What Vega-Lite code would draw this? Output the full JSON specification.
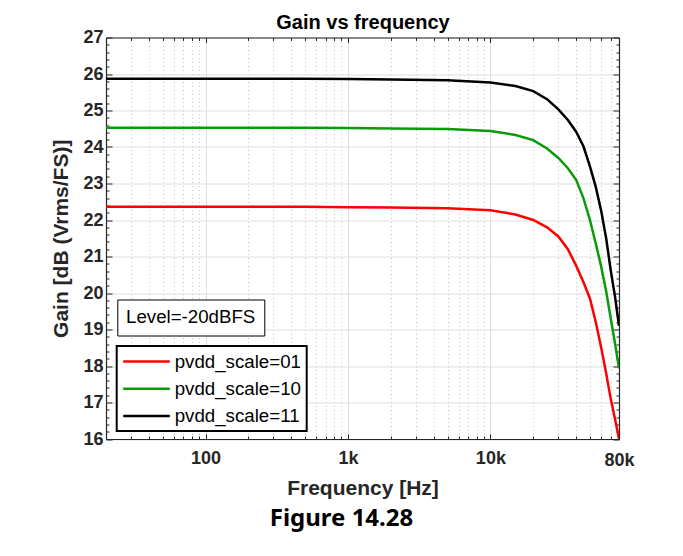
{
  "$schema": "https://vega.github.io/schema/vega-lite/v6.json",
  "width": 513,
  "height": 401.5,
  "autosize": {"type": "none"},
  "padding": {"left": 106, "top": 37.5, "right": 64, "bottom": 117},
  "background": "white",
  "config": {
    "view": {"stroke": null},
    "axis": {
      "labelFont": "Liberation Sans",
      "labelFontWeight": "bold",
      "labelFontSize": 18,
      "labelColor": "#262626",
      "titleFont": "Liberation Sans",
      "titleFontWeight": "bold",
      "titleFontSize": 21,
      "titleColor": "#262626",
      "domainColor": "#262626",
      "domainWidth": 1.2,
      "tickColor": "#262626",
      "tickWidth": 1,
      "labelFlush": false,
      "labelOverlap": false
    },
    "legend": {
      "labelFont": "Liberation Sans",
      "labelFontSize": 18.7,
      "labelColor": "#000000",
      "strokeColor": "#000000",
      "fillColor": "#ffffff"
    },
    "title": {"font": "Noto Sans", "fontWeight": "bold", "fontSize": 24, "color": "#000000"}
  },
  "title": {"text": "Figure 14.28", "orient": "bottom", "anchor": "middle", "frame": "group", "dx": -21, "offset": 9},
  "datasets": {
    "curves": [
      {"f": 20, "gain": 22.36, "series": "pvdd_scale=01"},
      {"f": 30, "gain": 22.36, "series": "pvdd_scale=01"},
      {"f": 50, "gain": 22.36, "series": "pvdd_scale=01"},
      {"f": 100, "gain": 22.36, "series": "pvdd_scale=01"},
      {"f": 200, "gain": 22.36, "series": "pvdd_scale=01"},
      {"f": 500, "gain": 22.36, "series": "pvdd_scale=01"},
      {"f": 1000, "gain": 22.35, "series": "pvdd_scale=01"},
      {"f": 2000, "gain": 22.34, "series": "pvdd_scale=01"},
      {"f": 5000, "gain": 22.32, "series": "pvdd_scale=01"},
      {"f": 10000, "gain": 22.27, "series": "pvdd_scale=01"},
      {"f": 15000, "gain": 22.15, "series": "pvdd_scale=01"},
      {"f": 20000, "gain": 22.0, "series": "pvdd_scale=01"},
      {"f": 25000, "gain": 21.8, "series": "pvdd_scale=01"},
      {"f": 30000, "gain": 21.55, "series": "pvdd_scale=01"},
      {"f": 35000, "gain": 21.2, "series": "pvdd_scale=01"},
      {"f": 40000, "gain": 20.75, "series": "pvdd_scale=01"},
      {"f": 45000, "gain": 20.3, "series": "pvdd_scale=01"},
      {"f": 50000, "gain": 19.85, "series": "pvdd_scale=01"},
      {"f": 55000, "gain": 19.2, "series": "pvdd_scale=01"},
      {"f": 60000, "gain": 18.5, "series": "pvdd_scale=01"},
      {"f": 65000, "gain": 17.8, "series": "pvdd_scale=01"},
      {"f": 70000, "gain": 17.1, "series": "pvdd_scale=01"},
      {"f": 75000, "gain": 16.55, "series": "pvdd_scale=01"},
      {"f": 80000, "gain": 16.0, "series": "pvdd_scale=01"},
      {"f": 20, "gain": 24.53, "series": "pvdd_scale=10"},
      {"f": 30, "gain": 24.53, "series": "pvdd_scale=10"},
      {"f": 50, "gain": 24.53, "series": "pvdd_scale=10"},
      {"f": 100, "gain": 24.53, "series": "pvdd_scale=10"},
      {"f": 200, "gain": 24.53, "series": "pvdd_scale=10"},
      {"f": 500, "gain": 24.53, "series": "pvdd_scale=10"},
      {"f": 1000, "gain": 24.52, "series": "pvdd_scale=10"},
      {"f": 2000, "gain": 24.51, "series": "pvdd_scale=10"},
      {"f": 5000, "gain": 24.49, "series": "pvdd_scale=10"},
      {"f": 10000, "gain": 24.44, "series": "pvdd_scale=10"},
      {"f": 15000, "gain": 24.33, "series": "pvdd_scale=10"},
      {"f": 20000, "gain": 24.19, "series": "pvdd_scale=10"},
      {"f": 25000, "gain": 23.96, "series": "pvdd_scale=10"},
      {"f": 30000, "gain": 23.7, "series": "pvdd_scale=10"},
      {"f": 35000, "gain": 23.42, "series": "pvdd_scale=10"},
      {"f": 40000, "gain": 23.1, "series": "pvdd_scale=10"},
      {"f": 45000, "gain": 22.6, "series": "pvdd_scale=10"},
      {"f": 50000, "gain": 22.0, "series": "pvdd_scale=10"},
      {"f": 55000, "gain": 21.35, "series": "pvdd_scale=10"},
      {"f": 60000, "gain": 20.72, "series": "pvdd_scale=10"},
      {"f": 65000, "gain": 20.05, "series": "pvdd_scale=10"},
      {"f": 70000, "gain": 19.3, "series": "pvdd_scale=10"},
      {"f": 75000, "gain": 18.62, "series": "pvdd_scale=10"},
      {"f": 80000, "gain": 17.94, "series": "pvdd_scale=10"},
      {"f": 20, "gain": 25.87, "series": "pvdd_scale=11"},
      {"f": 30, "gain": 25.87, "series": "pvdd_scale=11"},
      {"f": 50, "gain": 25.87, "series": "pvdd_scale=11"},
      {"f": 100, "gain": 25.87, "series": "pvdd_scale=11"},
      {"f": 200, "gain": 25.87, "series": "pvdd_scale=11"},
      {"f": 500, "gain": 25.87, "series": "pvdd_scale=11"},
      {"f": 1000, "gain": 25.86, "series": "pvdd_scale=11"},
      {"f": 2000, "gain": 25.85, "series": "pvdd_scale=11"},
      {"f": 5000, "gain": 25.83, "series": "pvdd_scale=11"},
      {"f": 10000, "gain": 25.77, "series": "pvdd_scale=11"},
      {"f": 15000, "gain": 25.67, "series": "pvdd_scale=11"},
      {"f": 20000, "gain": 25.53, "series": "pvdd_scale=11"},
      {"f": 25000, "gain": 25.31, "series": "pvdd_scale=11"},
      {"f": 30000, "gain": 25.03, "series": "pvdd_scale=11"},
      {"f": 35000, "gain": 24.74, "series": "pvdd_scale=11"},
      {"f": 40000, "gain": 24.42, "series": "pvdd_scale=11"},
      {"f": 45000, "gain": 24.02, "series": "pvdd_scale=11"},
      {"f": 50000, "gain": 23.47, "series": "pvdd_scale=11"},
      {"f": 55000, "gain": 22.9, "series": "pvdd_scale=11"},
      {"f": 60000, "gain": 22.25, "series": "pvdd_scale=11"},
      {"f": 65000, "gain": 21.5, "series": "pvdd_scale=11"},
      {"f": 70000, "gain": 20.62, "series": "pvdd_scale=11"},
      {"f": 75000, "gain": 19.9, "series": "pvdd_scale=11"},
      {"f": 80000, "gain": 19.1, "series": "pvdd_scale=11"}
    ]
  },
  "layer": [
    {
      "data": {"name": "curves"},
      "mark": {"type": "line", "strokeWidth": 2.5, "clip": true},
      "encoding": {
        "x": {
          "field": "f", "type": "quantitative",
          "scale": {"type": "log", "domain": [20, 80000], "nice": false},
          "axis": {
            "orient": "bottom",
            "title": "Frequency [Hz]",
            "titlePadding": 8,
            "values": [20,30,40,50,60,70,80,90,100,200,300,400,500,600,700,800,900,1000,2000,3000,4000,5000,6000,7000,8000,9000,10000,20000,30000,40000,50000,60000,70000,80000],
            "labelExpr": "indexof([100,1000,10000,80000], datum.value) >= 0 ? (datum.value >= 1000 ? (datum.value/1000) + 'k' : '' + datum.value) : ''",
            "labelPadding": 15,
            "grid": true,
            "gridColor": {"condition": {"test": "indexof([100,1000,10000], datum.value) >= 0", "value": "#dedede"}, "value": "#c4c4c4"},
            "gridDash": {"condition": {"test": "indexof([100,1000,10000], datum.value) >= 0", "value": []}, "value": [1, 3]},
            "gridWidth": 1,
            "tickSize": {"condition": {"test": "indexof([100,1000,10000], datum.value) >= 0", "value": -5}, "value": -3}
          }
        },
        "y": {
          "field": "gain", "type": "quantitative",
          "scale": {"domain": [16, 27], "nice": false, "zero": false},
          "axis": {
            "orient": "left",
            "title": "Gain [dB (Vrms/FS)]",
            "titlePadding": 11,
            "values": [16,16.2,16.4,16.6,16.8,17,17.2,17.4,17.6,17.8,18,18.2,18.4,18.6,18.8,19,19.2,19.4,19.6,19.8,20,20.2,20.4,20.6,20.8,21,21.2,21.4,21.6,21.8,22,22.2,22.4,22.6,22.8,23,23.2,23.4,23.6,23.8,24,24.2,24.4,24.6,24.8,25,25.2,25.4,25.6,25.8,26,26.2,26.4,26.6,26.8,27],
            "labelExpr": "datum.value % 1 === 0 ? format(datum.value, 'd') : ''",
            "labelPadding": 9,
            "grid": true,
            "gridColor": "#dedede",
            "gridOpacity": {"condition": {"test": "datum.value % 1 === 0", "value": 1}, "value": 0},
            "tickSize": {"condition": {"test": "datum.value % 1 === 0", "value": -6}, "value": -3}
          }
        },
        "color": {
          "field": "series", "type": "nominal",
          "scale": {"domain": ["pvdd_scale=01", "pvdd_scale=10", "pvdd_scale=11"], "range": ["#ff0000", "#0a9a0a", "#000000"]},
          "legend": {
            "title": null,
            "orient": "none",
            "legendX": 10.7,
            "legendY": 308.5,
            "padding": 5,
            "symbolType": "M -1 0 H 4.18",
            "symbolStrokeWidth": 2.5,
            "symbolSize": 324,
            "rowPadding": 6.3,
            "labelOffset": 32,
            "labelExpr": "datum.label + '\u00a0'",
            "encode": {"legend": {"update": {"strokeWidth": {"value": 2}}}}
          }
        }
      }
    },
    {
      "data": {"name": "curves"},
      "mark": {"type": "line", "opacity": 0},
      "encoding": {
        "x": {
          "field": "f", "type": "quantitative",
          "axis": {
            "orient": "top",
            "title": "Gain vs frequency",
            "titleColor": "#000000",
            "titleFontSize": 20,
            "titlePadding": 5,
            "values": [20,30,40,50,60,70,80,90,100,200,300,400,500,600,700,800,900,1000,2000,3000,4000,5000,6000,7000,8000,9000,10000,20000,30000,40000,50000,60000,70000,80000],
            "labels": false,
            "grid": false,
            "tickSize": {"condition": {"test": "indexof([100,1000,10000], datum.value) >= 0", "value": -5}, "value": -3}
          }
        },
        "y": {
          "field": "gain", "type": "quantitative",
          "axis": {
            "orient": "right",
            "title": null,
            "values": [16,16.2,16.4,16.6,16.8,17,17.2,17.4,17.6,17.8,18,18.2,18.4,18.6,18.8,19,19.2,19.4,19.6,19.8,20,20.2,20.4,20.6,20.8,21,21.2,21.4,21.6,21.8,22,22.2,22.4,22.6,22.8,23,23.2,23.4,23.6,23.8,24,24.2,24.4,24.6,24.8,25,25.2,25.4,25.6,25.8,26,26.2,26.4,26.6,26.8,27],
            "labels": false,
            "grid": false,
            "tickSize": {"condition": {"test": "datum.value % 1 === 0", "value": -6}, "value": -3}
          }
        },
        "detail": {"field": "series", "type": "nominal"}
      }
    },
    {
      "data": {"values": [{"label": "Level=-20dBFS"}]},
      "mark": {"type": "point", "opacity": 0},
      "encoding": {
        "shape": {
          "field": "label", "type": "nominal",
          "legend": {
            "title": null,
            "orient": "none",
            "legendX": 11.3,
            "legendY": 262,
            "padding": 8,
            "symbolOpacity": 0,
            "symbolSize": 1,
            "labelOffset": -18,
            "labelExpr": "datum.label + '\u00a0\u00a0\u00a0\u00a0\u00a0\u00a0\u00a0\u00a0\u00a0'",
            "encode": {"legend": {"update": {"strokeWidth": {"value": 2}}}}
          }
        }
      }
    }
  ],
  "resolve": {"axis": {"x": "independent", "y": "independent"}}
}
